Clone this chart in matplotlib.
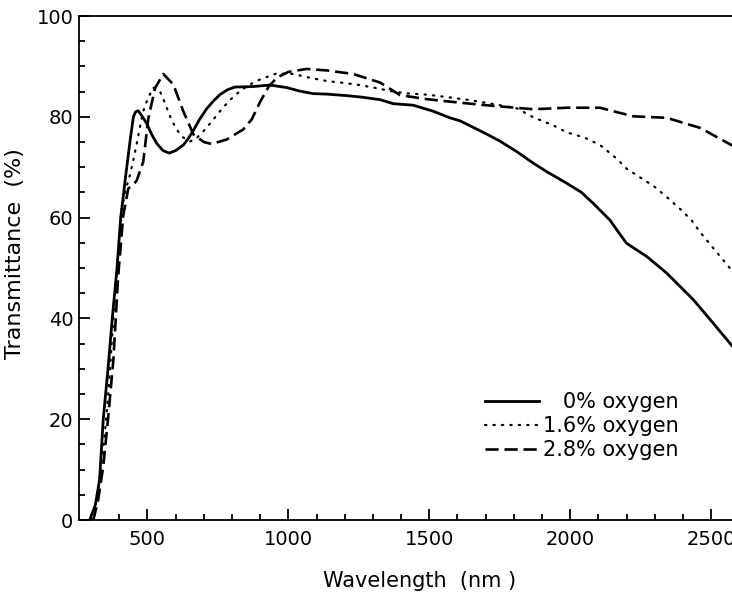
import matplotlib
matplotlib.use("Agg")
import matplotlib.pyplot as plt
from matplotlib.ticker import MultipleLocator

plt.rcParams['font.family'] = ['DejaVu Sans']

# transmittance spectra of the films, wavelength in nm, T in %
wl_0 = [295, 315, 330, 343, 360, 375, 392, 405, 422, 440, 450, 458, 467, 480, 497,
        515, 533, 555, 577, 600, 627, 645, 663, 685, 710, 735, 757, 785, 810, 875,
        935, 994, 1040, 1088, 1136, 1207, 1260, 1325, 1372, 1443, 1514, 1573, 1609,
        1692, 1750, 1810, 1869, 1917, 1988, 2040, 2082, 2141, 2170, 2200, 2271,
        2342, 2437, 2508, 2575]
t_0 = [0, 3, 8, 20, 30, 40, 50, 60, 68, 76, 80, 81, 81.2, 80.2, 78.7,
       76.5, 74.7, 73.3, 72.8, 73.3, 74.4, 75.7, 77.3, 79.5, 81.6, 83.2, 84.4, 85.4, 85.9, 86.0,
       86.3, 85.8, 85.1, 84.6, 84.5, 84.2, 83.9, 83.4, 82.6, 82.3, 81.1, 79.8, 79.2,
       76.9, 75.2, 73.1, 70.8, 69.1, 66.8, 65.0, 62.8, 59.5, 57.2, 54.9, 52.3,
       49.0, 43.7, 39.0, 34.5]

wl_16 = [302, 320, 337, 350, 361, 373, 385, 397, 408, 425, 438, 450, 462, 475, 485,
         500, 521, 544, 560, 580, 600, 621, 651, 675, 698, 727, 757, 790, 828, 860,
         899, 958, 1017, 1080, 1136, 1200, 1254, 1320, 1372, 1430, 1491, 1550, 1633,
         1720, 1810, 1869, 1940, 1988, 2050, 2106, 2165, 2200, 2250, 2295, 2340,
         2390, 2430, 2461, 2520, 2575]
t_16 = [0, 4, 11.3, 18, 25, 35, 45, 54, 61.5, 66, 68.5, 71.5, 74.7, 78.5, 81.1,
        83.5, 85.8, 85.1, 83, 80.1, 77.8, 76.1, 75.1, 75.8, 77.1, 79, 81.1, 83.2, 85.1, 86.3,
        87.4, 88.6, 88.5, 87.7, 87.1, 86.7, 86.3, 85.6, 85.0, 84.6, 84.4, 84.0, 83.4,
        82.6, 81.7, 79.9, 78.3, 76.9, 75.9, 74.4, 71.7, 69.7, 67.9, 66.3, 64.2,
        61.7, 59.5, 57.1, 53.1, 49.4]

wl_28 = [308, 325, 343, 360, 379, 396, 414, 432, 450, 462, 485, 503, 527, 556, 592,
         627, 663, 700, 728, 781, 840, 870, 900, 930, 960, 1000, 1065, 1136, 1230,
         1325, 1396, 1491, 1609, 1700, 1869, 1988, 2106, 2153, 2224, 2342, 2461, 2575]
t_28 = [0, 4, 10.6, 20, 31.8, 48.4, 60.4, 65.8, 66.5, 67.4, 71.1, 79.7, 85.7, 88.5, 86.4,
        81.1, 76.5, 75.0, 74.6, 75.5, 77.5, 79.5, 83, 86, 87.8, 88.9, 89.5, 89.2, 88.5,
        86.8, 84.3, 83.5, 82.8, 82.3, 81.5, 81.8, 81.8, 81.1, 80.1, 79.8, 77.8, 74.3]

labels = ['\u2007\u20080% oxygen', '1.6% oxygen', '2.8% oxygen']

fig = plt.figure(figsize=(7.32, 5.93), dpi=100)
ax = fig.add_axes([79 / 732, 73 / 593, 1 - 79 / 732, 504 / 593])

ax.plot(wl_0, t_0, color='black', lw=2.0, ls='-', label=labels[0])
ax.plot(wl_16, t_16, color='black', lw=1.6, ls=(0, (0.6, 3.2)),
        dash_capstyle='round', label=labels[1])
ax.plot(wl_28, t_28, color='black', lw=1.9, ls=(0, (5, 2.2)), label=labels[2])

ax.set_xlim(257, 2574)
ax.set_ylim(0, 100)

ax.xaxis.set_major_locator(MultipleLocator(500))
ax.xaxis.set_minor_locator(MultipleLocator(100))
ax.yaxis.set_major_locator(MultipleLocator(20))
ax.yaxis.set_minor_locator(MultipleLocator(5))
ax.tick_params(which='both', direction='in', width=1.3, top=False, right=False,
               labelsize=14)
ax.tick_params(which='major', length=8)
ax.tick_params(which='minor', length=4.5)
ax.tick_params(axis='x', pad=7)
ax.tick_params(axis='y', pad=4)

for side in ['left', 'bottom', 'top']:
    ax.spines[side].set_linewidth(1.3)
ax.spines['right'].set_visible(False)

ax.set_xlabel('Wavelength  (nm )', fontsize=15)
ax.xaxis.set_label_coords(0.521, -0.101)
ax.set_ylabel('Transmittance  (%)', fontsize=16)
ax.yaxis.set_label_coords(-0.083, 0.528)

leg = ax.legend(loc='lower right', bbox_to_anchor=(0.935, 0.098), frameon=False,
                fontsize=15, handlelength=2.6, handletextpad=0.2,
                labelspacing=0.2, borderpad=0)

fig.savefig('out.png', dpi=100)
